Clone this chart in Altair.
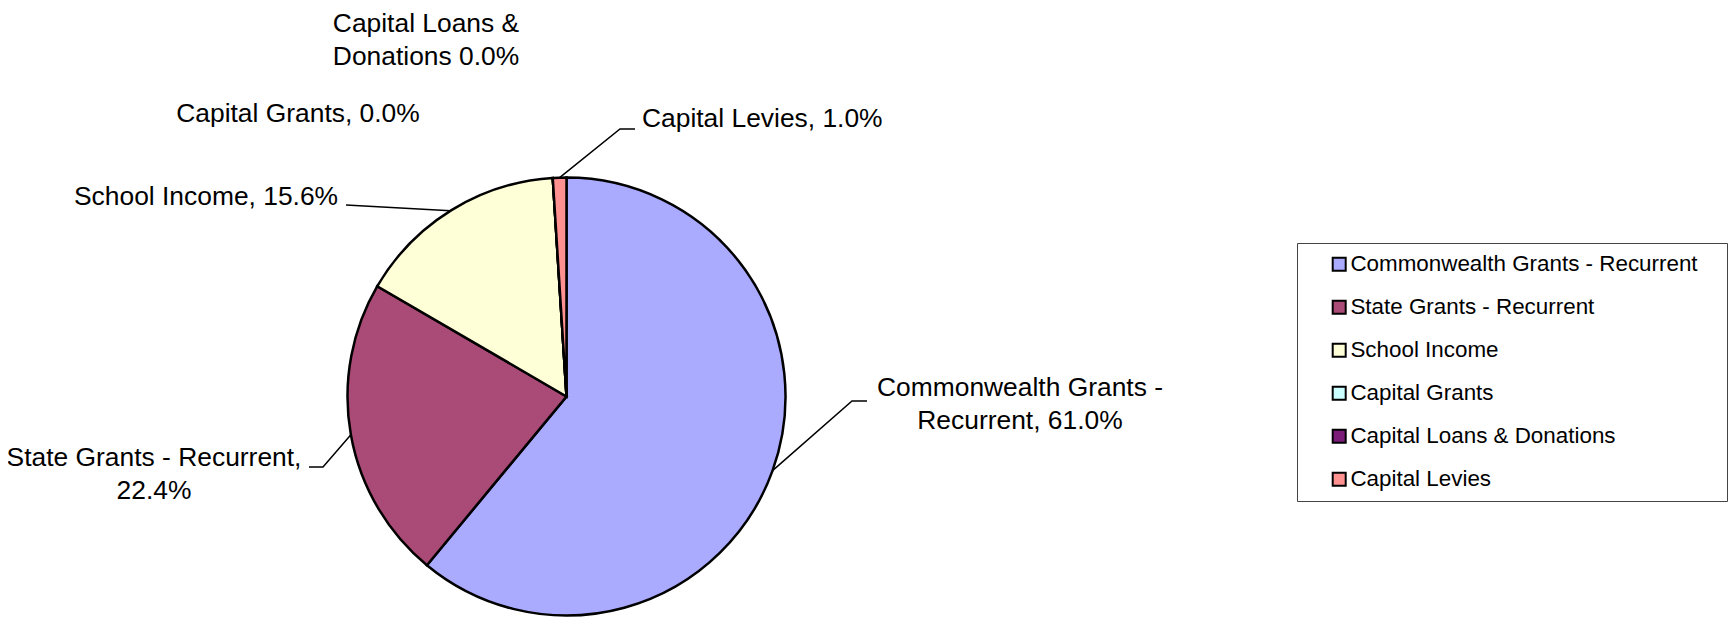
import math
import altair as alt
import pandas as pd

# ---- data ----
categories = [
    "Commonwealth Grants - Recurrent",
    "State Grants - Recurrent",
    "School Income",
    "Capital Grants",
    "Capital Loans & Donations",
    "Capital Levies",
]
values = [61.0, 22.4, 15.6, 0.0, 0.0, 1.0]
colors = ["#AAAAFF", "#AA4A76", "#FFFFD7", "#CCFFFF", "#7B1C78", "#FF9191"]
label_lines = [
    ["Commonwealth Grants -", "Recurrent, 61.0%"],
    ["State Grants - Recurrent,", "22.4%"],
    ["School Income, 15.6%"],
    ["Capital Grants, 0.0%"],
    ["Capital Loans &", "Donations 0.0%"],
    ["Capital Levies, 1.0%"],
]

# ---- layout (pixels, chart coordinates) ----
W, H = 1720, 611
CX, CY, R = 558.5, 388.5, 219
FONT = "Liberation Sans"
label_x = [1012, 146, 66, 290, 418, 634]
label_y = [388, 458, 197, 114, 24, 119]
label_align = ["center", "center", "left", "center", "center", "left"]
# leader lines: attach angle on pie edge (None = slice mid-angle), elbow, end
leader_angle = [None, None, 328.0, None, None, None]
leader_elbow = [(844, 393), (315, 459), (338, 197), None, None, (612, 121)]
leader_end = [(859, 393), (301, 459), (338, 197), None, None, (627, 121)]

total = sum(values)
pie_df = pd.DataFrame({"category": categories, "value": values, "idx": range(len(categories))})

lab_df = pd.DataFrame({
    "category": categories,
    "text": label_lines,
    "x": label_x,
    "y": label_y,
    "align": label_align,
})

rows = []
cum = 0.0
for i, v in enumerate(values):
    mid = (cum + v / 2) / total * 360.0
    cum += v
    if leader_elbow[i] is None:
        continue
    ang = leader_angle[i] if leader_angle[i] is not None else mid
    a = math.radians(ang)
    sx, sy = CX + R * math.sin(a), CY - R * math.cos(a)
    pts = [(sx, sy), leader_elbow[i], leader_end[i]]
    for k, (px, py) in enumerate(pts):
        rows.append({"grp": categories[i], "ord": k, "x": px, "y": py})
lead_df = pd.DataFrame(rows)

pie = alt.Chart(pie_df).mark_arc(radius=R, stroke="black", strokeWidth=2.5).encode(
    theta=alt.Theta("value:Q", stack=True),
    order=alt.Order("idx:Q"),
    color=alt.Color(
        "category:N",
        sort=categories,
        scale=alt.Scale(domain=categories, range=colors),
        legend=alt.Legend(
            orient="none",
            legendX=1289,
            legendY=235,
            title=" ",
            titleOrient="right",
            titlePadding=19,
            titleFontSize=22,
            symbolType="square",
            symbolSize=169,
            symbolStrokeColor="black",
            symbolStrokeWidth=2,
            symbolOffset=21,
            labelOffset=0,
            labelFontSize=22.4,
            labelFont=FONT,
            labelColor="black",
            labelLimit=600,
            rowPadding=20,
            padding=10,
            strokeColor="#444444",
            fillColor="white",
        ),
    ),
    x=alt.value(CX),
    y=alt.value(CY),
)

leaders = alt.Chart(lead_df).mark_line(color="black", strokeWidth=1.5).encode(
    x=alt.X("x:Q", scale=None, axis=None),
    y=alt.Y("y:Q", scale=None, axis=None),
    detail="grp:N",
    order="ord:Q",
)

def text_layer(align):
    return alt.Chart(lab_df[lab_df["align"] == align]).mark_text(
        align=align, baseline="alphabetic", fontSize=26.4, font=FONT,
        lineHeight=33, color="black",
    ).encode(
        x=alt.X("x:Q", scale=None, axis=None),
        y=alt.Y("y:Q", scale=None, axis=None),
        text="text",
    )

chart = alt.layer(pie, leaders, text_layer("center"), text_layer("left")).properties(
    width=W, height=H, padding=0, background="white",
    autosize=alt.AutoSizeParams(type="none"),
).configure_view(stroke=None)

chart.save("out.html", embed_options={"renderer": "svg", "actions": False})
